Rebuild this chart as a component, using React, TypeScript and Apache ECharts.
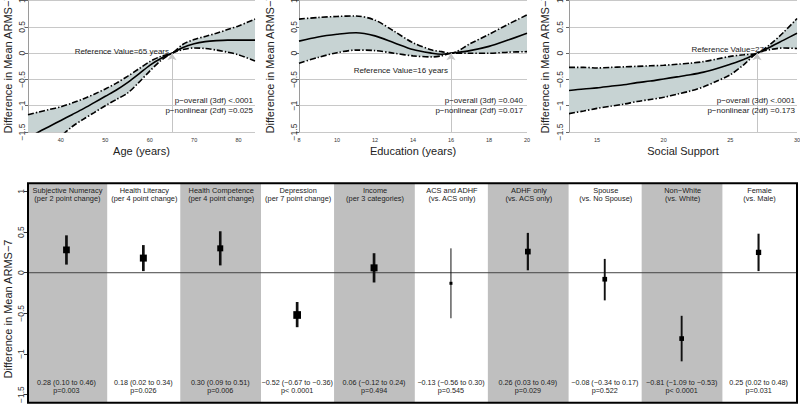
import React, { useEffect, useRef } from "react";
import * as echarts from "echarts";

const FONT = '"Liberation Sans", Arial, Helvetica, sans-serif';
const MINUS = "\u2212";

// ---------- Top panel 1: Age (years) ----------
const ageX = [32.6, 35, 37.5, 40, 42.5, 45, 47.5, 50, 52.5, 55, 57.5, 60, 62.5, 65, 67.5, 70, 72.5, 75, 77.5, 80, 83.7];
const ageMean = [-1.62, -1.5, -1.39, -1.28, -1.17, -1.06, -0.94, -0.82, -0.7, -0.56, -0.4, -0.23, -0.1, 0, 0.11, 0.18, 0.22, 0.24, 0.25, 0.25, 0.25];
const ageUpper = [-1.17, -1.12, -1.07, -1.02, -0.95, -0.87, -0.78, -0.68, -0.57, -0.44, -0.3, -0.16, -0.06, 0, 0.17, 0.26, 0.32, 0.38, 0.45, 0.52, 0.65];
const ageLower = [-2.1, -1.92, -1.75, -1.58, -1.4, -1.26, -1.13, -1.0, -0.88, -0.76, -0.56, -0.34, -0.14, 0, 0.07, 0.1, 0.09, 0.06, 0.02, -0.03, -0.15];
const ageRef = 65;

// ---------- Top panel 2: Education (years) ----------
const eduX = [8, 9, 10, 11, 12, 13, 14, 15, 15.5, 16, 17, 18, 19, 20];
const eduMean = [0.23, 0.31, 0.36, 0.39, 0.33, 0.2, 0.07, 0.0, -0.02, 0, 0.05, 0.13, 0.25, 0.38];
const eduUpper = [0.65, 0.68, 0.7, 0.71, 0.63, 0.42, 0.2, 0.06, 0.03, 0, 0.18, 0.36, 0.55, 0.73];
const eduLower = [-0.19, -0.08, 0.01, 0.06, 0.05, 0.0, -0.05, -0.07, -0.05, 0, 0.0, 0.0, 0.02, 0.03];
const eduRef = 16;

// ---------- Top panel 3: Social Support ----------
const ssX = [12.9, 14, 15, 16, 17, 18, 19, 20, 21, 22, 23, 24, 25, 26, 27, 28, 29, 30];
const ssMean = [-0.71, -0.68, -0.66, -0.63, -0.6, -0.56, -0.53, -0.49, -0.45, -0.41, -0.36, -0.29, -0.21, -0.12, 0, 0.12, 0.25, 0.38];
const ssUpper = [-0.27, -0.27, -0.28, -0.27, -0.26, -0.25, -0.24, -0.23, -0.21, -0.19, -0.16, -0.11, -0.06, -0.03, 0, 0.17, 0.4, 0.66];
const ssLower = [-1.15, -1.1, -1.05, -1.01, -0.97, -0.92, -0.88, -0.84, -0.78, -0.72, -0.64, -0.53, -0.41, -0.22, 0, 0.07, 0.1, 0.09];
const ssRef = 27;

const topXTitles = ["Age (years)", "Education (years)", "Social Support"];
const topXMin = [32.6, 8, 12.9];
const topXMax = [83.7, 20, 30];
const refLabels = ["Reference Value=65 years", "Reference Value=16 years", "Reference Value=27"];
const pOverall = ["p\u2212overall (3df) <.0001", "p\u2212overall (3df) =0.040", "p\u2212overall (3df) <.0001"];
const pNonlinear = ["p\u2212nonlinear (2df) =0.025", "p\u2212nonlinear (2df) =0.017", "p\u2212nonlinear (2df) =0.173"];
const yTitle = "Difference in Mean ARMS\u22127";

// ---------- Bottom panel: effects ----------
const effNames = ["Subjective Numeracy", "Health Literacy", "Health Competence", "Depression", "Income", "ACS and ADHF", "ADHF only", "Spouse", "Non\u2212White", "Female"];
const effUnits = ["(per 2 point change)", "(per 4 point change)", "(per 4 point change)", "(per 7 point change)", "(per 3 categories)", "(vs. ACS only)", "(vs. ACS only)", "(vs. No Spouse)", "(vs. White)", "(vs. Male)"];
const effEst = [0.28, 0.18, 0.3, -0.52, 0.06, -0.13, 0.26, -0.08, -0.81, 0.25];
const effLo = [0.1, 0.02, 0.09, -0.67, -0.12, -0.56, 0.03, -0.34, -1.09, 0.02];
const effHi = [0.46, 0.34, 0.51, -0.36, 0.24, 0.3, 0.49, 0.17, -0.53, 0.48];
const effP = ["p=0.003", "p=0.026", "p=0.006", "p< 0.0001", "p=0.494", "p=0.545", "p=0.029", "p=0.522", "p< 0.0001", "p=0.031"];

// styles (marker sizes / whisker widths) for the bottom panel
const sqSize = [6.7, 7, 6, 7.7, 7, 3, 5.7, 4.7, 4.7, 5.3];
const barWidth = [2.7, 2.7, 2.6, 2.7, 2.7, 1, 2.2, 1.9, 1.9, 2.1];

const fmtNum = (v: number) => (v < 0 ? MINUS + Math.abs(v).toFixed(2) : v.toFixed(2));
const fmtTick = (v: number) => {
  const s = String(Math.round(v * 100) / 100);
  return s.startsWith("-") ? MINUS + s.slice(1) : s;
};

function buildOption(): any {
  const panels = [
    { x: ageX, mean: ageMean, upper: ageUpper, lower: ageLower, ref: ageRef },
    { x: eduX, mean: eduMean, upper: eduUpper, lower: eduLower, ref: eduRef },
    { x: ssX, mean: ssMean, upper: ssUpper, lower: ssLower, ref: ssRef },
  ];
  const topGrid = [
    { left: 28, width: 227 },
    { left: 299, width: 228 },
    { left: 569, width: 228 },
  ];
  const labelMargin = [2, 1, 5];
  const BAND = "#c7d3d3";
  const SMOOTH = 0.3;
  const DASHDOT = [6, 2, 1.4, 2];

  const grid: any[] = topGrid.map((g) => ({
    left: g.left,
    top: 0.7,
    width: g.width,
    height: 131.3,
    containLabel: false,
    outerBoundsMode: "none",
  }));
  grid.push({ left: 28, top: 183.3, width: 769, height: 219.5, containLabel: false, outerBoundsMode: "none" });

  const xAxis: any[] = panels.map((_, i) => ({
    gridIndex: i,
    type: "value",
    min: topXMin[i],
    max: topXMax[i],
    ...(i === 1 ? { interval: 2 } : { splitNumber: i === 0 ? 5 : 3 }),
    axisLine: { show: false },
    axisTick: { show: false },
    splitLine: { show: false },
    axisLabel: {
      fontSize: 5.5,
      color: "#333",
      margin: 5,
      fontFamily: FONT,
      showMinLabel: i === 1,
      showMaxLabel: i !== 0,
    },
    name: topXTitles[i],
    nameLocation: "middle",
    nameGap: 13,
    nameTextStyle: { fontSize: 11, color: "#222", fontFamily: FONT },
  }));
  xAxis.push({ gridIndex: 3, type: "value", min: 0.5, max: 10.5, show: false });

  const yAxis: any[] = panels.map((_, i) => ({
    gridIndex: i,
    type: "value",
    min: -1.5,
    max: 1,
    interval: 0.5,
    axisLine: { show: true, lineStyle: { color: "#9a9a9a", width: 1 } },
    axisTick: { show: true, length: 3, lineStyle: { color: "#666" } },
    splitLine: { show: true, lineStyle: { color: "#c8c8c8", width: 1 } },
    axisLabel: {
      rotate: 90,
      fontSize: 8.5,
      color: "#333",
      margin: labelMargin[i],
      fontFamily: FONT,
      formatter: fmtTick,
    },
  }));
  yAxis.push({
    gridIndex: 3,
    type: "value",
    min: -1.6,
    max: 1.1,
    splitNumber: 5,
    axisLine: { show: false },
    axisTick: { show: true, length: 4, lineStyle: { color: "#333" } },
    splitLine: { show: false },
    axisLabel: {
      rotate: 90,
      fontSize: 8.5,
      color: "#333",
      margin: 3,
      fontFamily: FONT,
      formatter: fmtTick,
      showMinLabel: false,
      showMaxLabel: false,
    },
  });

  const series: any[] = [];
  panels.forEach((p, i) => {
    // band series: value column first so that the stack applies to y (stacked by index)
    const lowerBase = p.x.map((x, k) => [p.lower[k], x]);
    const diffBand = p.x.map((x, k) => [p.upper[k] - p.lower[k], x]);
    const lowerPairs = p.x.map((x, k) => [x, p.lower[k]]);
    const upperPairs = p.x.map((x, k) => [x, p.upper[k]]);
    const meanPairs = p.x.map((x, k) => [x, p.mean[k]]);
    series.push(
      {
        type: "line",
        xAxisIndex: i,
        yAxisIndex: i,
        data: lowerBase,
        encode: { x: 1, y: 0 },
        stack: "band" + i,
        stackStrategy: "all",
        smooth: SMOOTH,
        symbol: "none",
        lineStyle: { opacity: 0, width: 0 },
        silent: true,
        z: 1,
      },
      {
        type: "line",
        xAxisIndex: i,
        yAxisIndex: i,
        data: diffBand,
        encode: { x: 1, y: 0 },
        stack: "band" + i,
        stackStrategy: "all",
        smooth: SMOOTH,
        symbol: "none",
        lineStyle: { opacity: 0, width: 0 },
        areaStyle: { color: BAND, opacity: 1 },
        silent: true,
        z: 1,
      },
      {
        type: "line",
        xAxisIndex: i,
        yAxisIndex: i,
        data: upperPairs,
        smooth: SMOOTH,
        symbol: "none",
        lineStyle: { color: "#000", width: 1.6, type: DASHDOT },
        silent: true,
        z: 3,
      },
      {
        type: "line",
        xAxisIndex: i,
        yAxisIndex: i,
        data: lowerPairs,
        smooth: SMOOTH,
        symbol: "none",
        lineStyle: { color: "#000", width: 1.6, type: DASHDOT },
        silent: true,
        z: 3,
      },
      {
        type: "line",
        xAxisIndex: i,
        yAxisIndex: i,
        data: meanPairs,
        smooth: SMOOTH,
        symbol: "none",
        lineStyle: { color: "#000", width: 1.6 },
        silent: true,
        z: 4,
        markLine: {
          silent: true,
          symbol: ["none", "arrow"],
          symbolSize: 7,
          lineStyle: { color: "#c4c4c4", width: 1, type: "solid" },
          itemStyle: { color: "#c4c4c4" },
          label: { show: false },
          data: [[{ coord: [p.ref, -1.5] }, { coord: [p.ref, 0] }]],
        },
      }
    );
  });

  const catX = effNames.map((_, k) => k + 1);
  const shaded = catX.filter((x) => x % 2 === 1);

  series.push({
    type: "custom",
    xAxisIndex: 3,
    yAxisIndex: 3,
    silent: true,
    z: 1,
    data: shaded.map((x) => [x, 0]),
    renderItem: (params: any, api: any) => {
      const cs = params.coordSys;
      const x = api.value(0);
      const a = api.coord([x - 0.52, 0]);
      const b = api.coord([x + 0.53, 0]);
      const x0 = Math.max(a[0], cs.x);
      const x1 = Math.min(b[0], cs.x + cs.width);
      return {
        type: "rect",
        shape: { x: x0, y: cs.y, width: x1 - x0, height: cs.height },
        style: { fill: "#bfbfbf" },
      };
    },
  });

  series.push({
    type: "custom",
    xAxisIndex: 3,
    yAxisIndex: 3,
    silent: true,
    z: 2,
    data: [[0.5, 0]],
    renderItem: (params: any, api: any) => {
      const cs = params.coordSys;
      const y = api.coord([api.value(0), api.value(1)])[1];
      return {
        type: "line",
        shape: { x1: cs.x, y1: y, x2: cs.x + cs.width, y2: y },
        style: { stroke: "#444", lineWidth: 1 },
      };
    },
  });

  const txt = (x: number, y: number, text: string, size: number, lineHeight: number) => ({
    type: "text",
    x,
    y,
    style: {
      text,
      fill: "#222",
      fontSize: size,
      fontFamily: FONT,
      lineHeight,
      align: "center",
      verticalAlign: "middle",
    },
  });

  series.push({
    type: "custom",
    xAxisIndex: 3,
    yAxisIndex: 3,
    silent: true,
    z: 3,
    data: catX.map((x, k) => [x, effEst[k], effLo[k], effHi[k]]),
    encode: { x: 0, y: [1, 2, 3] },
    renderItem: (params: any, api: any) => {
      const k = params.dataIndex;
      const cs = params.coordSys;
      const x = api.value(0);
      const pE = api.coord([x, api.value(1)]);
      const pL = api.coord([x, api.value(2)]);
      const pH = api.coord([x, api.value(3)]);
      const s = sqSize[k];
      const top = cs.y;
      const bot = cs.y + cs.height;
      const estText = `${fmtNum(effEst[k])} (${fmtNum(effLo[k])} to ${fmtNum(effHi[k])})`;
      return {
        type: "group",
        children: [
          {
            type: "line",
            shape: { x1: pE[0], y1: pL[1], x2: pE[0], y2: pH[1] },
            style: { stroke: "#111", lineWidth: barWidth[k] },
          },
          {
            type: "rect",
            shape: { x: pE[0] - s / 2, y: pE[1] - s / 2, width: s, height: s },
            style: { fill: "#000" },
          },
          txt(pE[0] + 1, top + 10.8, effNames[k] + "\n" + effUnits[k], 7.4, 8.2),
          txt(pE[0], bot - 16.3, estText + "\n" + effP[k], 7.2, 8),
        ],
      };
    },
  });

  series.push({
    type: "custom",
    xAxisIndex: 3,
    yAxisIndex: 3,
    silent: true,
    z: 10,
    data: [[0.5, 0]],
    renderItem: (params: any) => {
      const cs = params.coordSys;
      return {
        type: "rect",
        shape: { x: cs.x, y: cs.y, width: cs.width, height: cs.height },
        style: { fill: "none", stroke: "#000", lineWidth: 2 },
      };
    },
  });

  const gtext = (x: number, y: number, text: string, align: string, size: number, rotation = 0) => ({
    type: "text",
    x,
    y,
    z: 100,
    rotation,
    silent: true,
    style: {
      text,
      fill: "#222",
      fontSize: size,
      fontFamily: FONT,
      align,
      verticalAlign: "middle",
    },
  });

  const refPos = [
    [169, 51],
    [448, 70],
    [764, 49],
  ];
  const pRight = [253, 523, 795];
  const elements: any[] = [
    gtext(8, 64, yTitle, "center", 11, Math.PI / 2),
    gtext(270, 64, yTitle, "center", 11, Math.PI / 2),
    gtext(545, 64, yTitle, "center", 11, Math.PI / 2),
    gtext(8, 309, yTitle, "center", 11, Math.PI / 2),
  ];
  for (let i = 0; i < 3; i++) {
    elements.push(gtext(refPos[i][0], refPos[i][1], refLabels[i], "right", 8));
    elements.push(gtext(pRight[i], 100, pOverall[i], "right", 8));
    elements.push(gtext(pRight[i], 110.5, pNonlinear[i], "right", 8));
  }

  return {
    animation: false,
    backgroundColor: "#fff",
    textStyle: { fontFamily: FONT },
    grid,
    xAxis,
    yAxis,
    series,
    graphic: { elements },
  };
}

export default function App() {
  const ref = useRef<HTMLDivElement>(null);
  useEffect(() => {
    if (!ref.current) return;
    const chart = echarts.init(ref.current, null, { renderer: "svg" });
    chart.setOption(buildOption());
    return () => chart.dispose();
  }, []);
  return (
    <div
      ref={ref}
      style={{ position: "fixed", left: 0, top: 0, width: 800, height: 404, background: "#fff" }}
    />
  );
}
